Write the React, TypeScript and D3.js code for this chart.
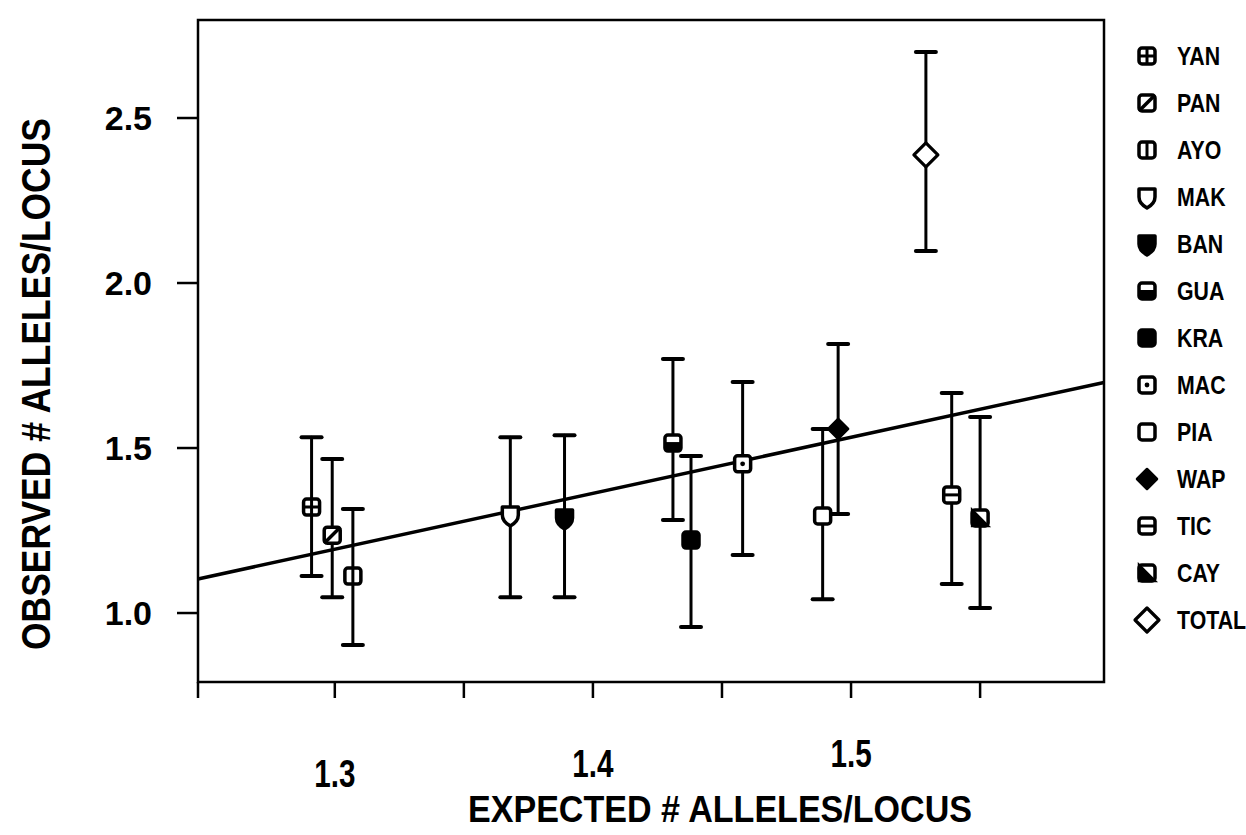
import React from "react";
import * as d3 from "d3";

// populations, in legend order
const populations = ["YAN", "PAN", "AYO", "MAK", "BAN", "GUA", "KRA", "MAC", "PIA", "WAP", "TIC", "CAY", "TOTAL"];
const markerTypes = ["grid", "slash", "bars", "shield", "shieldFilled", "halfBottom", "filled", "dot", "open", "diamondFilled", "hline", "diagFilled", "diamond"];
const expected = [1.291, 1.299, 1.307, 1.368, 1.389, 1.431, 1.438, 1.458, 1.489, 1.495, 1.539, 1.55, 1.529];
const observed = [1.321, 1.236, 1.112, 1.297, 1.288, 1.515, 1.221, 1.452, 1.294, 1.558, 1.358, 1.288, 2.388];
const lower = [1.112, 1.048, 0.903, 1.048, 1.048, 1.282, 0.958, 1.176, 1.042, 1.3, 1.088, 1.015, 2.097];
const upper = [1.533, 1.467, 1.315, 1.533, 1.539, 1.77, 1.476, 1.7, 1.558, 1.815, 1.667, 1.594, 2.7];

// regression line observed = a + b * expected
const fitIntercept = -1.013;
const fitSlope = 1.697;

const xTicks = [1.3, 1.35, 1.4, 1.45, 1.5, 1.55];
const xTickLabels = ["1.3", "1.4", "1.5"];
const yTicks = [1.0, 1.5, 2.0, 2.5];

const W = 1246;
const H = 835;
const left = 198, right = 1104, top = 20, bottom = 682;

const x = d3.scaleLinear().domain([1.247, 1.598]).range([left, right]);
const y = d3.scaleLinear().domain([0.791, 2.797]).range([bottom, top]);

const s = 8;

function Marker({ type, cx, cy }: { type: string; cx: number; cy: number }) {
  const box = (fill: string) => (
    <rect x={-s} y={-s} width={2 * s} height={2 * s} rx={3} fill={fill} stroke="#000" strokeWidth={3.5} />
  );
  let body: React.ReactNode = null;
  const shield = `M${-s},${-s} L${s},${-s} L${s},0 Q${s},${s * 0.8} 0,${s + 3} Q${-s},${s * 0.8} ${-s},0 Z`;
  switch (type) {
    case "grid":
      body = (<>{box("#fff")}<path d={`M0,${-s}V${s}M${-s},0H${s}`} stroke="#000" strokeWidth={3} /></>);
      break;
    case "slash":
      body = (<>{box("#fff")}<path d={`M${-s},${s}L${s},${-s}`} stroke="#000" strokeWidth={3.5} /></>);
      break;
    case "bars":
      body = (<>{box("#fff")}<path d={`M0,${-s}V${s}`} stroke="#000" strokeWidth={3} /></>);
      break;
    case "shield":
      body = <path d={shield} fill="#fff" stroke="#000" strokeWidth={3.5} strokeLinejoin="round" />;
      break;
    case "shieldFilled":
      body = <path d={shield} fill="#000" stroke="#000" strokeWidth={3.5} strokeLinejoin="round" />;
      break;
    case "halfBottom":
      body = (<>{box("#fff")}<rect x={-s} y={-1} width={2 * s} height={s + 1} fill="#000" /></>);
      break;
    case "filled":
      body = box("#000");
      break;
    case "dot":
      body = (<>{box("#fff")}<circle r={2.4} fill="#000" /></>);
      break;
    case "open":
      body = box("#fff");
      break;
    case "diamondFilled":
      body = <path d="M0,-10L10,0L0,10L-10,0Z" fill="#000" stroke="#000" strokeWidth={2.5} strokeLinejoin="round" />;
      break;
    case "hline":
      body = (<>{box("#fff")}<path d={`M${-s},0H${s}`} stroke="#000" strokeWidth={3} /></>);
      break;
    case "diagFilled":
      body = (<>{box("#fff")}<path d={`M${-s},${-s}L${s},${s}L${-s},${s}Z`} fill="#000" stroke="#000" strokeWidth={2.5} /></>);
      break;
    case "diamond":
      body = <path d="M0,-12L12,0L0,12L-12,0Z" fill="#fff" stroke="#000" strokeWidth={3.2} strokeLinejoin="round" />;
      break;
  }
  return <g transform={`translate(${cx},${cy})`}>{body}</g>;
}

export default function App() {
  const font = "'Liberation Sans', Arial, Helvetica, sans-serif";
  const fitLine = d3.line<number>()
    .x(d => x(d))
    .y(d => y(fitIntercept + fitSlope * d));
  const legendY = (i: number) => 56 + i * 47;

  return (
    <svg width={W} height={H} style={{ position: "absolute", left: 0, top: 0, background: "#fff" }}>
      {/* frame */}
      <rect x={left} y={top} width={right - left} height={bottom - top} fill="none" stroke="#000" strokeWidth={2.5} />
      <line x1={left} x2={left} y1={bottom} y2={bottom + 16} stroke="#000" strokeWidth={2.5} />

      {/* x axis ticks */}
      {xTicks.map(t => (
        <line key={t} x1={x(t)} x2={x(t)} y1={bottom} y2={bottom + 16} stroke="#000" strokeWidth={2.5} />
      ))}
      {xTickLabels.map((lab, i) => (
        <text key={lab} transform={`translate(${x(+lab)},${787 - i * 10}) scale(0.78,1)`} textAnchor="middle"
          fontFamily={font} fontWeight="bold" fontSize={38}>{lab}</text>
      ))}

      {/* y axis ticks */}
      {yTicks.map(t => (
        <g key={t}>
          <line x1={left - 21} x2={left} y1={y(t)} y2={y(t)} stroke="#000" strokeWidth={2.5} />
          <text x={152} y={y(t) + 12} textAnchor="end" fontFamily={font} fontWeight="bold" fontSize={34}>{t.toFixed(1)}</text>
        </g>
      ))}

      {/* axis titles */}
      <text x={720} y={822} textAnchor="middle" fontFamily={font} fontWeight="bold" fontSize={36}
        textLength={504} lengthAdjust="spacingAndGlyphs">EXPECTED # ALLELES/LOCUS</text>
      <text transform="translate(50,384) rotate(-90)" textAnchor="middle" fontFamily={font} fontWeight="bold" fontSize={40}
        textLength={532} lengthAdjust="spacingAndGlyphs">OBSERVED # ALLELES/LOCUS</text>

      {/* regression line */}
      <path d={fitLine(x.domain()) ?? ""} fill="none" stroke="#000" strokeWidth={3.5} />

      {/* error bars */}
      {populations.map((p, i) => {
        const cx = x(expected[i]);
        return (
          <g key={p} stroke="#000" strokeLinecap="round">
            <line x1={cx} x2={cx} y1={y(upper[i])} y2={y(lower[i])} strokeWidth={3} />
            <line x1={cx - 10} x2={cx + 10} y1={y(upper[i])} y2={y(upper[i])} strokeWidth={4} />
            <line x1={cx - 10} x2={cx + 10} y1={y(lower[i])} y2={y(lower[i])} strokeWidth={4} />
          </g>
        );
      })}

      {/* markers */}
      {populations.map((p, i) => (
        <Marker key={p} type={markerTypes[i]} cx={x(expected[i])} cy={y(observed[i])} />
      ))}

      {/* legend */}
      {populations.map((p, i) => (
        <g key={p}>
          <Marker type={markerTypes[i]} cx={1147} cy={legendY(i)} />
          <text transform={`translate(1177,${legendY(i) + 9}) scale(0.82,1)`} fontFamily={font} fontWeight="bold" fontSize={26}>{p}</text>
        </g>
      ))}
    </svg>
  );
}
